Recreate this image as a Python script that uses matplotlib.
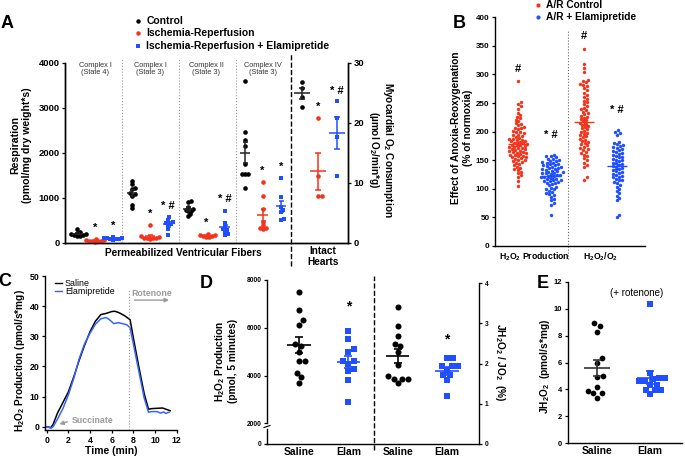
#!/usr/bin/env python3
"""Elamipretide figure: respiration, A/R effect, H2O2 traces and totals (panels A-E)."""

import numpy as np
import matplotlib

matplotlib.use("Agg")
import matplotlib.pyplot as plt

plt.rcParams["font.family"] = ["Liberation Sans", "DejaVu Sans"]
plt.rcParams["font.weight"] = "bold"
plt.rcParams["axes.labelweight"] = "bold"
plt.rcParams["mathtext.fontset"] = "custom"
plt.rcParams["mathtext.rm"] = "Liberation Sans"
plt.rcParams["mathtext.bf"] = "Liberation Sans:bold"
plt.rcParams["mathtext.default"] = "bf"
plt.rcParams["axes.linewidth"] = 1.0

W, H = 685, 457
RED = "#F4331C"
BLUE = "#1F4FFF"
GREY = "#9A9A9A"

# ---- A: fibre respiration (left axis) and intact-heart O2 consumption (right axis)
A_COMPLEX = ["Complex I\n(State 4)", "Complex I\n(State 3)",
             "Complex II\n(State 3)", "Complex IV\n(State 3)"]
A_CONTROL = [
    [300, 250, 230, 210, 195, 185, 175, 165, 160],
    [1380, 1300, 1220, 1200, 1100, 1080, 1050, 850, 780],
    [930, 900, 800, 760, 740, 720, 700, 650, 600],
    [3600, 2470, 2290, 2150, 1750, 1530, 1530, 1530, 1230],
]
A_IR = [
    [95, 70, 60, 50, 45, 40, 35, 30],
    [390, 150, 130, 120, 110, 100, 100, 90],
    [200, 180, 170, 160, 150, 140, 140],
    [1350, 1050, 750, 470, 400, 340, 330, 320],
]
A_ELAM = [
    [140, 120, 110, 100, 95, 85, 80, 70],
    [580, 520, 460, 440, 420, 400, 300, 170],
    [720, 450, 380, 300, 280, 250, 200, 180],
    [1450, 1030, 800, 730, 680, 530, 520],
]
A_MARK_IR = ["*", "*", "*", "*"]
A_MARK_ELAM = ["*", "* #", "* #", "*"]
HEART_CONTROL = [26.9, 25.9, 24.3, 22.6]
HEART_IR = [20.9, 11.2, 7.9, 7.9]
HEART_ELAM = [23.6, 20.8, 17.6, 11.2]
HEART_MARK = ["", "*", "* #"]

# ---- B: effect of anoxia-reoxygenation (% of normoxia)
B_GROUPS = ["H$_2$O$_2$ Production", "H$_2$O$_2$/O$_2$"]
B_PROD_CTRL = [288, 252, 248, 244, 240, 233, 229, 226, 223, 221, 218, 215, 213, 211,
               209, 207, 206, 204, 202, 200, 199, 197, 195, 194, 192, 191, 189, 188,
               187, 186, 185, 184, 183, 182, 181, 180, 179, 178, 177, 176, 175, 174,
               173, 172, 171, 170, 169, 168, 167, 166, 165, 164, 163, 162, 161, 160,
               159, 158, 157, 156, 155, 154, 153, 151, 150, 148, 147, 145, 143, 141,
               139, 137, 135, 133, 130, 127, 124, 120, 113, 105]
B_PROD_ELAM = [160, 158, 157, 155, 153, 152, 150, 149, 148, 147, 146, 145, 144, 143,
               142, 141, 140, 139, 138, 137, 136, 135, 134, 133, 132, 131, 130, 129,
               128, 128, 127, 126, 125, 124, 123, 122, 121, 120, 119, 118, 117, 116,
               115, 114, 113, 112, 111, 110, 108, 106, 104, 102, 100, 99, 97, 95, 93,
               91, 89, 86, 83, 80, 76, 72, 55]
B_RATIO_CTRL = [345, 318, 312, 305, 290, 288, 286, 284, 282, 280, 276, 272, 268, 264,
                260, 257, 254, 251, 248, 245, 242, 240, 237, 235, 232, 230, 228, 226,
                224, 222, 220, 218, 216, 214, 212, 210, 208, 206, 204, 202, 200, 198,
                196, 194, 192, 190, 188, 186, 184, 182, 180, 178, 176, 174, 172, 170,
                168, 165, 162, 160, 157, 154, 150, 146, 142, 138, 120, 116]
B_RATIO_ELAM = [203, 200, 198, 195, 182, 180, 178, 176, 175, 173, 172, 170, 168, 166,
                165, 163, 161, 160, 158, 156, 155, 153, 151, 150, 148, 146, 145, 143,
                141, 140, 138, 136, 135, 133, 131, 130, 128, 126, 125, 123, 121, 120,
                118, 116, 115, 112, 110, 107, 104, 100, 96, 92, 88, 84, 80, 55, 50]
B_MARKS = ["#", "* #", "#", "* #"]

# ---- C: H2O2 production traces
C_T_SALINE = [0, 0.4, 0.6, 1.0, 1.5, 2.0, 2.5, 3.0, 3.5, 4.0, 4.5, 5.0, 5.5, 6.0, 6.3,
              6.7, 7.2, 7.7, 8.0, 8.5, 9.0, 9.4, 9.7, 10.2, 10.7, 11.0, 11.4]
C_SALINE = [0, -0.3, 0.8, 4.5, 8.0, 11.5, 16.5, 22.0, 27.0, 31.5, 35.0, 37.2, 37.6,
            38.2, 38.3, 37.8, 36.8, 35.5, 29.5, 20.0, 11.0, 5.8, 6.0, 6.1, 6.2, 5.8, 5.3]
C_T_ELAM = [0, 0.4, 0.6, 1.0, 1.5, 2.0, 2.5, 3.0, 3.5, 4.0, 4.5, 5.0, 5.5, 5.8, 6.2,
            6.6, 7.0, 7.4, 7.7, 8.0, 8.5, 9.0, 9.4, 9.7, 10.2, 10.5, 10.8, 11.0, 11.3]
C_ELAM = [0, -0.5, 0.0, 2.5, 6.0, 10.5, 16.0, 22.5, 27.5, 31.0, 34.0, 35.8, 36.2, 35.5,
          34.2, 34.5, 34.2, 33.8, 32.8, 27.5, 18.5, 9.5, 4.8, 5.0, 5.0, 4.5, 4.9, 4.4, 4.8]

# ---- D: H2O2 over 5 minutes (left) and JH2O2/JO2 (right)
D_LABELS = ["Saline", "Elam", "Saline", "Elam"]
D_SALINE_H2O2 = [7500, 6740, 6320, 6110, 5300, 5250, 5000, 4620, 4620, 4120, 3930, 3680]
D_ELAM_H2O2 = [5860, 5520, 5100, 4975, 4625, 4625, 4490, 4270, 4170, 3820, 2875]
D_SALINE_RATIO = [3.42, 2.94, 2.69, 2.50, 2.44, 2.30, 1.97, 1.69, 1.63, 1.63, 1.63, 1.51]
D_ELAM_RATIO = [2.15, 2.15, 1.94, 1.94, 1.94, 1.85, 1.72, 1.72, 1.59, 1.19]

# ---- E: JH2O2 with rotenone
E_LABELS = ["Saline", "Elam"]
E_SALINE = [8.9, 8.7, 8.3, 6.3, 6.0, 5.0, 4.9, 4.2, 3.9, 3.75, 3.7, 3.4]
E_ELAM = [10.35, 5.2, 4.85, 4.85, 4.75, 4.6, 4.6, 4.35, 4.35, 3.95, 3.95, 3.95, 3.65]


def rect(x0, y0, x1, y1):
    """Axes rectangle from pixel box (top-left origin)."""
    return [x0 / W, 1 - y1 / H, (x1 - x0) / W, (y1 - y0) / H]


def swarm(vals, center, px_x, px_y, d):
    """Beeswarm offsets: points at least d pixels apart."""
    vals = np.asarray(vals, dtype=float)
    xs = np.zeros(len(vals))
    placed = []
    for i in np.argsort(vals):
        y = vals[i] * px_y
        cands = [0.0]
        for px, py in placed:
            dy = y - py
            if abs(dy) < d:
                dx = np.sqrt(d * d - dy * dy)
                cands += [px + dx, px - dx]
        cands.sort(key=abs)
        for c in cands:
            if all((c - px) ** 2 + (y - py) ** 2 >= d * d - 1e-6 for px, py in placed):
                break
        placed.append((c, y))
        xs[i] = center + c / px_x
    return xs


def dots(ax, vals, x, px_x, px_y, d, color, marker, size):
    xs = swarm(vals, x, px_x, px_y, d)
    ax.scatter(xs, vals, s=size, c=color, marker=marker, linewidths=0,
               zorder=3, clip_on=False)


def mean_sem(ax, x, vals, half, cap, color, lw=1.2):
    m = np.mean(vals)
    s = np.std(vals, ddof=1) / np.sqrt(len(vals))
    ax.plot([x - half, x + half], [m, m], color=color, lw=lw, zorder=5,
            solid_capstyle="butt")
    ax.errorbar(x, m, yerr=s, fmt="none", ecolor=color, elinewidth=lw,
                capsize=cap, capthick=lw, zorder=5)


def bold_ticks(ax, size):
    ax.tick_params(labelsize=size, width=0.9, length=2.5, pad=1.5)
    for lab in ax.get_xticklabels() + ax.get_yticklabels():
        lab.set_fontweight("bold")


fig = plt.figure(figsize=(W / 100, H / 100), dpi=100)

# ================= Panel A =================
A_POS = [[0.67, 1.67, 2.67], [3.72, 4.72, 5.72], [6.83, 7.85, 8.87], [10.0, 10.98, 12.0]]
HEART_POS = [13.17, 14.06, 15.1]
axA = fig.add_axes(rect(65, 63, 348, 243))
axA.set_xlim(0, 15.72)
axA.set_ylim(0, 4000)
axA.set_yticks([0, 1000, 2000, 3000, 4000])
axA.set_xticks([])
axA.spines["top"].set_visible(False)
axA2 = axA.twinx()
axA2.set_ylim(0, 30)
axA2.set_yticks([0, 10, 20, 30])
axA2.spines["top"].set_visible(False)
bold_ticks(axA, 6.8)
bold_ticks(axA2, 6.8)

styles = [("black", "o", 11), (RED, "o", 11), (BLUE, "s", 9)]
for g in range(4):
    groups = (A_CONTROL[g], A_IR[g], A_ELAM[g])
    for k, vals in enumerate(groups):
        col, mk, sz = styles[k]
        x = A_POS[g][k]
        dots(axA, vals, x, 18, 0.045, 3.0, col, mk, sz)
        mean_sem(axA, x, vals, 0.3, 1.8, "#222222" if k == 0 else col, lw=1.1)
    axA.text(A_POS[g][1], max(A_IR[g]) + 250, A_MARK_IR[g], ha="center",
             va="center", fontsize=8)
    axA.text(A_POS[g][2], max(A_ELAM[g]) + 250, A_MARK_ELAM[g], ha="center",
             va="center", fontsize=8)
    axA.text(A_POS[g][1], 4030, A_COMPLEX[g], ha="center", va="top", fontsize=5.3,
             fontweight="normal", color="#333333", linespacing=1.05)

for k, vals in enumerate((HEART_CONTROL, HEART_IR, HEART_ELAM)):
    col, mk, sz = styles[k]
    x = HEART_POS[k]
    dots(axA2, vals, x, 18, 6, 4.0, col, mk, sz)
    mean_sem(axA2, x, vals, 0.45, 2.2, "#222222" if k == 0 else col, lw=1.1)
    if HEART_MARK[k]:
        axA2.text(x, max(vals) + 1.8, HEART_MARK[k], ha="center", va="center", fontsize=8)

for xd in (3.17, 6.33, 9.5):
    axA.plot([xd, xd], [0, 4120], ls=":", color="#999999", lw=0.8, clip_on=False)
axA.plot([12.56, 12.56], [-500, 4200], ls="--", color="black", lw=1.0, clip_on=False)

# ================= Panel B =================
axB = fig.add_axes(rect(495, 17.3, 645, 246))
axB.set_xlim(0.3, 4.85)
axB.set_ylim(0, 400)
axB.set_yticks(range(0, 401, 50))
axB.set_xticks([1.5, 3.5])
axB.set_xticklabels(B_GROUPS)
for s in ("top", "right"):
    axB.spines[s].set_visible(False)
bold_ticks(axB, 5.8)
axB.tick_params(axis="x", length=0, labelsize=6.3, pad=3)
b_sets = [B_PROD_CTRL, B_PROD_ELAM, B_RATIO_CTRL, B_RATIO_ELAM]
for k, vals in enumerate(b_sets):
    col = RED if k % 2 == 0 else BLUE
    dots(axB, vals, k + 1, 33, 0.572, 3.4, col, "o", 6)
    mean_sem(axB, k + 1, vals, 0.3, 2, col, lw=1.0)
    off = 22 if k % 2 == 0 else 34
    axB.text(k + 1, max(vals) + off, B_MARKS[k], ha="center", va="center", fontsize=8)
axB.plot([2.5, 2.5], [-22, 378], ls=":", color="#666666", lw=0.8, clip_on=False)

# ================= Panel C =================
axC = fig.add_axes(rect(45, 276, 176.7, 430))
axC.set_xlim(-0.15, 12)
axC.set_ylim(-1.1, 50)
axC.set_xticks(range(0, 13, 2))
axC.set_yticks(range(0, 51, 10))
for s in ("top", "right"):
    axC.spines[s].set_visible(False)
bold_ticks(axC, 6.3)
axC.plot(C_T_SALINE, C_SALINE, color="black", lw=1.1)
axC.plot(C_T_ELAM, C_ELAM, color="#3A63FF", lw=1.1)
axC.plot([7.63, 7.63], [-1.1, 45.5], ls=":", color="#999999", lw=0.8)
axC.annotate("", xy=(11.55, 42.0), xytext=(7.85, 42.0),
             arrowprops=dict(arrowstyle="-|>", color=GREY, lw=1.0, mutation_scale=6))
axC.text(9.7, 44.2, "Rotenone", ha="center", va="center", fontsize=6.3, color=GREY)
axC.annotate("", xy=(0.93, 0.56), xytext=(2.16, 1.9),
             arrowprops=dict(arrowstyle="-|>", color=GREY, lw=1.0, mutation_scale=6))
axC.text(4.23, 2.2, "Succinate", ha="center", va="center", fontsize=6.3, color=GREY)

# ================= Panel D =================
D_POS = [1, 2, 3, 4]
axD = fig.add_axes(rect(267, 280, 479, 423.3))
axD.set_xlim(0.35, 4.65)
axD.set_ylim(2000, 8000)
axD.set_yticks([2000, 4000, 6000, 8000])
axD.set_xticks([])
for s in ("top", "right", "bottom"):
    axD.spines[s].set_visible(False)
axD.patch.set_alpha(0)
bold_ticks(axD, 4.8)
axD0 = fig.add_axes(rect(267, 429, 479, 444))
axD0.set_xlim(0.35, 4.65)
axD0.set_ylim(0, 1)
axD0.set_yticks([0])
axD0.set_xticks([])
for s in ("top", "right", "bottom"):
    axD0.spines[s].set_visible(False)
axD0.patch.set_alpha(0)
bold_ticks(axD0, 4.8)
axDr = fig.add_axes(rect(267, 283.3, 479, 444))
axDr.set_xlim(0.35, 4.65)
axDr.set_ylim(0, 4)
axDr.set_yticks([0, 1, 2, 3, 4])
axDr.yaxis.tick_right()
axDr.set_xticks(D_POS)
axDr.set_xticklabels(D_LABELS)
for s in ("top", "left"):
    axDr.spines[s].set_visible(False)
axDr.patch.set_alpha(0)
bold_ticks(axDr, 4.8)
axDr.tick_params(axis="x", length=0, labelsize=7.5, pad=2)

dots(axD, D_SALINE_H2O2, 1, 49.3, 0.0239, 6.3, "black", "o", 19)
mean_sem(axD, 1, D_SALINE_H2O2, 0.24, 3, "black")
dots(axD, D_ELAM_H2O2, 2, 49.3, 0.0239, 6.3, BLUE, "s", 17)
mean_sem(axD, 2, D_ELAM_H2O2, 0.24, 3, BLUE)
axD.text(2, 6900, "*", ha="center", va="center", fontsize=10)
dots(axDr, D_SALINE_RATIO, 3, 49.3, 40.2, 6.3, "black", "o", 19)
mean_sem(axDr, 3, D_SALINE_RATIO, 0.24, 3, "black")
dots(axDr, D_ELAM_RATIO, 4, 49.3, 40.2, 6.3, BLUE, "s", 17)
mean_sem(axDr, 4, D_ELAM_RATIO, 0.24, 3, BLUE)
axDr.text(4, 2.6, "*", ha="center", va="center", fontsize=10)
axDr.plot([2.52, 2.52], [-0.15, 4.18], ls="--", color="black", lw=1.0, clip_on=False)

# ================= Panel E =================
axE = fig.add_axes(rect(568, 281.7, 682, 443.3))
axE.set_xlim(0.45, 2.6)
axE.set_ylim(0, 12)
axE.set_yticks(range(0, 13, 2))
axE.set_xticks([1, 2])
axE.set_xticklabels(E_LABELS)
for s in ("top", "right"):
    axE.spines[s].set_visible(False)
bold_ticks(axE, 5.5)
axE.tick_params(axis="x", length=0, labelsize=7.5, pad=2)
dots(axE, E_SALINE, 1, 53, 13.47, 6.0, "black", "o", 17)
mean_sem(axE, 1, E_SALINE, 0.24, 3, "#333333")
dots(axE, E_ELAM, 2, 53, 13.47, 6.0, BLUE, "s", 16)
mean_sem(axE, 2, E_ELAM, 0.24, 3, BLUE)

# ================= overlay: letters, legends, axis titles =================
ov = fig.add_axes([0, 0, 1, 1])
ov.set_xlim(0, W)
ov.set_ylim(H, 0)
ov.axis("off")

for letter, x, y in (("A", 7.5, 24), ("B", 459, 24), ("C", 5, 281.5),
                     ("D", 206, 283), ("E", 543, 283)):
    ov.text(x, y, letter, ha="center", va="center", fontsize=13)

# A legend and titles
legA = [("Control", "black", "o"), ("Ischemia-Reperfusion", RED, "o"),
        ("Ischemia-Reperfusion + Elamipretide", BLUE, "s")]
for i, (lab, col, mk) in enumerate(legA):
    y = 20.7 + 12.7 * i
    ov.plot(138.5, y, marker=mk, color=col, ms=3.2, mew=0)
    ov.text(146.5, y, lab, ha="left", va="center", fontsize=7.5)
ov.text(21, 145, "Respiration\n(pmol/mg dry weight*s)", rotation=90, ha="center",
        va="center", fontsize=7.6, linespacing=1.15)
ov.text(381, 150, "Myocardial O$_2$ Consumption\n(µmol O$_2$/min*g)", rotation=-90,
        ha="center", va="center", fontsize=7.2, linespacing=1.0)
ov.text(183, 253, "Permeabilized Ventricular Fibers", ha="center", va="center",
        fontsize=7.3)
ov.text(323, 256.5, "Intact\nHearts", ha="center", va="center", fontsize=7.3,
        linespacing=1.05)

# B legend and title
for i, (lab, col) in enumerate((("A/R Control", RED), ("A/R + Elamipretide", BLUE))):
    y = 4.7 + 12 * i
    ov.plot(538.5, y, marker="o", color=col, ms=3.0, mew=0)
    ov.text(546.5, y, lab, ha="left", va="center", fontsize=7.3)
ov.text(462, 128, "Effect of Anoxia-Reoxygenation\n(% of normoxia)", rotation=90,
        ha="center", va="center", fontsize=7.3, linespacing=1.15)

# C legend and titles
for i, (lab, col) in enumerate((("Saline", "black"), ("Elamipretide", "#3A63FF"))):
    y = 283 + 8 * i
    ov.plot([55, 62], [y, y], color=col, lw=1.0)
    ov.text(65, y, lab, ha="left", va="center", fontsize=6.4, fontweight="normal")
ov.text(20, 361, "H$_2$O$_2$ Production (pmol/s*mg)", rotation=90, ha="center",
        va="center", fontsize=7.3)
ov.text(111, 451, "Time (min)", ha="center", va="center", fontsize=7.5)

# D titles and axis break
ov.text(226, 361, "H$_2$O$_2$ Production\n(pmol, 5 minutes)", rotation=90,
        ha="center", va="center", fontsize=7.3, linespacing=1.15)
ov.text(500, 362, "JH$_2$O$_2$ / JO$_2$  (%)", rotation=-90, ha="center",
        va="center", fontsize=7.3)
ov.plot([264, 270], [427.5, 425.5], color="black", lw=0.8)

# E titles
ov.text(637, 293, "(+ rotenone)", ha="center", va="center", fontsize=7,
        fontweight="normal")
ov.text(545, 366, "JH$_2$O$_2$  (pmol/s*mg)", rotation=90, ha="center",
        va="center", fontsize=7.3)

fig.savefig("out.png", dpi=100)
